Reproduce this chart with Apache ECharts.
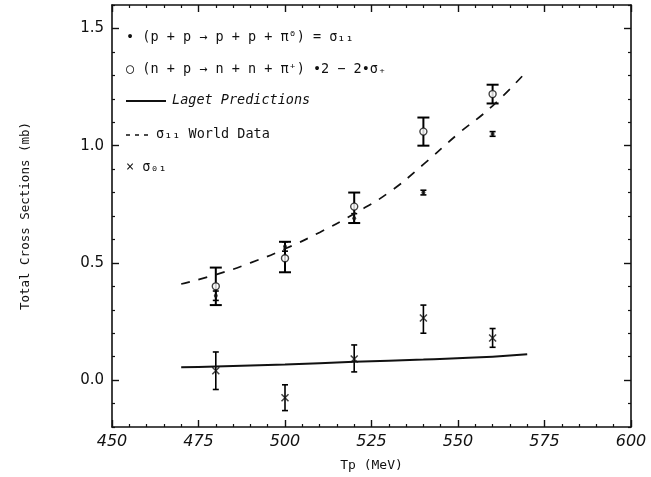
<!DOCTYPE html>
<html>
<head>
<meta charset="utf-8">
<script src="https://cdn.jsdelivr.net/npm/echarts@6/dist/echarts.min.js"></script>
<style>
  html, body { margin: 0; padding: 0; background: #fff; }
  #chart { width: 651px; height: 477px; }
</style>
</head>
<body>
<div id="chart"></div>
<script>
// energies (MeV)
var energies = [480, 500, 520, 540, 560];

// np derived points (open circles) with big error bars
var npValues = [0.40, 0.52, 0.74, 1.06, 1.22];
var npLow    = [0.32, 0.46, 0.67, 1.00, 1.18];
var npHigh   = [0.48, 0.59, 0.80, 1.12, 1.26];

// sigma11 measured (small filled dots)
var s11Values = [0.36, 0.57, 0.69, 0.80, 1.05];
var s11Low    = [0.34, 0.55, 0.67, 0.79, 1.04];
var s11High   = [0.38, 0.59, 0.71, 0.81, 1.06];

// sigma01 (crosses)
var s01Values = [0.04, -0.075, 0.09, 0.265, 0.18];
var s01Low    = [-0.04, -0.13, 0.035, 0.20, 0.14];
var s01High   = [0.12, -0.02, 0.15, 0.32, 0.22];

// Laget prediction curve
var lagetX = [470, 480, 500, 520, 540, 560, 570];
var lagetY = [0.055, 0.058, 0.067, 0.078, 0.088, 0.100, 0.110];

// sigma11 world data curve
var worldX = [470, 480, 490, 500, 510, 520, 530, 540, 550, 560, 570];
var worldY = [0.41, 0.45, 0.50, 0.56, 0.63, 0.71, 0.80, 0.92, 1.05, 1.17, 1.32];

// axis ticks
var yTicks = [0, 0.5, 1.0, 1.5];
var yMinor = [-0.2, -0.1, 0.1, 0.2, 0.3, 0.4, 0.6, 0.7, 0.8, 0.9, 1.1, 1.2, 1.3, 1.4, 1.6];

var legendRows = [
  '• (p + p → p + p + π⁰) = σ₁₁',
  '○ (n + p → n + n + π⁺) •2 − 2•σ₊',
  'Laget Predictions',
  'σ₁₁ World Data',
  '× σ₀₁'
];

function zip(xs, ys) {
  var out = [];
  for (var i = 0; i < xs.length; i++) out.push([xs[i], ys[i]]);
  return out;
}
function zip3(xs, lo, hi) {
  var out = [];
  for (var i = 0; i < xs.length; i++) out.push([xs[i], lo[i], hi[i]]);
  return out;
}

// vertical error bar with caps
function errorBar(capHalf, width) {
  return function (params, api) {
    var lo = api.coord([api.value(0), api.value(1)]);
    var hi = api.coord([api.value(0), api.value(2)]);
    var st = { stroke: '#000', lineWidth: width };
    return {
      type: 'group',
      children: [
        { type: 'line', shape: { x1: lo[0], y1: lo[1], x2: hi[0], y2: hi[1] }, style: st },
        { type: 'line', shape: { x1: lo[0] - capHalf, y1: lo[1], x2: lo[0] + capHalf, y2: lo[1] }, style: st },
        { type: 'line', shape: { x1: hi[0] - capHalf, y1: hi[1], x2: hi[0] + capHalf, y2: hi[1] }, style: st }
      ]
    };
  };
}

var font = 'DejaVu Sans';
var mono = '"DejaVu Sans Mono"';
var black = '#111';

var chart = echarts.init(document.getElementById('chart'), null, { renderer: 'canvas' });

var frameLine = { show: true, onZero: false, lineStyle: { color: black, width: 1.6 } };

var option = {
  backgroundColor: '#fff',
  animation: false,
  grid: { left: 112, right: 20, top: 5, bottom: 50 },
  xAxis: [{
    type: 'value', min: 450, max: 600, interval: 25, position: 'bottom',
    axisLine: frameLine,
    axisTick: { inside: true, length: 7, lineStyle: { color: black, width: 1.4 } },
    minorTick: { show: true, splitNumber: 5, length: 3, lineStyle: { color: black, width: 1.2 } },
    axisLabel: { color: black, fontSize: 16, fontFamily: font, margin: 7, fontStyle: 'italic' },
    splitLine: { show: false },
    name: 'Tp (MeV)', nameLocation: 'middle', nameGap: 32,
    nameTextStyle: { color: black, fontSize: 13, fontFamily: 'DejaVu Sans Mono' }
  }, {
    type: 'value', min: 450, max: 600, interval: 25, position: 'top',
    axisLine: frameLine,
    axisTick: { inside: true, length: 7, lineStyle: { color: black, width: 1.4 } },
    minorTick: { show: true, splitNumber: 5, length: 3, lineStyle: { color: black, width: 1.2 } },
    axisLabel: { show: false },
    splitLine: { show: false }
  }],
  yAxis: [{
    type: 'value', min: -0.2, max: 1.6, position: 'left',
    axisLine: frameLine,
    axisTick: { inside: true, length: 7, customValues: yTicks, lineStyle: { color: black, width: 1.4 } },
    axisLabel: {
      customValues: yTicks, color: black, fontSize: 15, fontFamily: font, margin: 8,
      formatter: function (v) { return v.toFixed(1); }
    },
    splitLine: { show: false },
    name: 'Total Cross Sections (mb)', nameLocation: 'middle', nameGap: 80, nameRotate: 90,
    nameTextStyle: { color: black, fontSize: 12.5, fontFamily: 'DejaVu Sans Mono', padding: [0, 0, 0, 0] }
  }, {
    type: 'value', min: -0.2, max: 1.6, position: 'left',
    axisLine: { show: false, onZero: false },
    axisTick: { inside: true, length: 3, customValues: yMinor, lineStyle: { color: black, width: 1.2 } },
    axisLabel: { show: false },
    splitLine: { show: false }
  }, {
    type: 'value', min: -0.2, max: 1.6, position: 'right',
    axisLine: frameLine,
    axisTick: { inside: true, length: 7, customValues: yTicks, lineStyle: { color: black, width: 1.4 } },
    axisLabel: { show: false },
    splitLine: { show: false }
  }, {
    type: 'value', min: -0.2, max: 1.6, position: 'right',
    axisLine: { show: false, onZero: false },
    axisTick: { inside: true, length: 3, customValues: yMinor, lineStyle: { color: black, width: 1.2 } },
    axisLabel: { show: false },
    splitLine: { show: false }
  }],
  series: [{
    name: 'Laget', type: 'line', smooth: true, symbol: 'none',
    data: zip(lagetX, lagetY),
    lineStyle: { color: black, width: 2 }
  }, {
    name: 'World', type: 'line', smooth: true, symbol: 'none',
    data: zip(worldX, worldY),
    lineStyle: { color: black, width: 1.7, type: [9, 9] }
  }, {
    name: 'npErr', type: 'custom', renderItem: errorBar(6, 2),
    data: zip3(energies, npLow, npHigh), z: 3
  }, {
    name: 's11Err', type: 'custom', renderItem: errorBar(3, 1.6),
    data: zip3(energies, s11Low, s11High), z: 3
  }, {
    name: 's01Err', type: 'custom', renderItem: errorBar(3, 1.6),
    data: zip3(energies, s01Low, s01High), z: 3
  }, {
    name: 'np', type: 'scatter', symbol: 'circle', symbolSize: 7,
    data: zip(energies, npValues),
    itemStyle: { color: '#fff', borderColor: black, borderWidth: 1.4 }, z: 4
  }, {
    name: 's11', type: 'scatter', symbol: 'circle', symbolSize: 4,
    data: zip(energies, s11Values),
    itemStyle: { color: black }, z: 4
  }, {
    name: 's01', type: 'scatter', symbol: 'path://M0,0L10,10M10,0L0,10', symbolSize: 7,
    data: zip(energies, s01Values),
    itemStyle: { color: 'none', borderColor: black, borderWidth: 1.5 }, z: 4
  }],
  graphic: [
    { type: 'text', left: 126, top: 30, style: { text: legendRows[0], font: '13.5px ' + mono, fill: black } },
    { type: 'text', left: 126, top: 62, style: { text: legendRows[1], font: '13.5px ' + mono, fill: black } },
    { type: 'line', shape: { x1: 126, y1: 101, x2: 166, y2: 101 }, style: { stroke: black, lineWidth: 2 } },
    { type: 'text', left: 172, top: 93, style: { text: legendRows[2], font: 'italic 13.5px ' + mono, fill: black } },
    { type: 'line', shape: { x1: 126, y1: 135, x2: 152, y2: 135 }, style: { stroke: black, lineWidth: 1.6, lineDash: [4, 5] } },
    { type: 'text', left: 156, top: 127, style: { text: legendRows[3], font: '13.5px ' + mono, fill: black } },
    { type: 'text', left: 126, top: 160, style: { text: legendRows[4], font: '13.5px ' + mono, fill: black } }
  ]
};

chart.setOption(option);
</script>
</body>
</html>
